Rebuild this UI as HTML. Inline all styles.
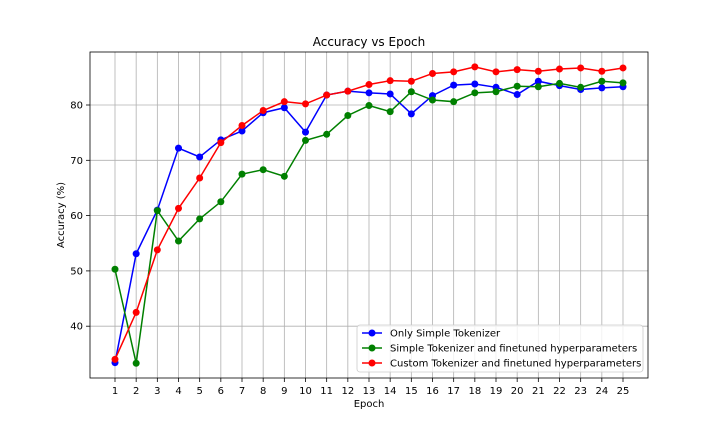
<!DOCTYPE html>
<html><head><meta charset="utf-8"><style>
body{margin:0;background:#fff;}
svg text{font-family:"DejaVu Sans","Liberation Sans",sans-serif;fill:#000;}
</style></head><body>
<svg id="c" width="720" height="432" xmlns="http://www.w3.org/2000/svg"></svg>
<script>
const epochs=[1,2,3,4,5,6,7,8,9,10,11,12,13,14,15,16,17,18,19,20,21,22,23,24,25];
const seriesBlue=[33.4,53.1,61.0,72.2,70.6,73.7,75.3,78.6,79.5,75.1,81.8,82.5,82.2,82.0,78.4,81.7,83.6,83.8,83.2,81.9,84.3,83.5,82.8,83.1,83.3];
const seriesGreen=[50.3,33.3,60.9,55.4,59.4,62.5,67.5,68.3,67.1,73.6,74.7,78.1,79.9,78.8,82.4,80.9,80.6,82.2,82.4,83.4,83.3,83.9,83.2,84.3,84.0];
const seriesRed=[34.0,42.5,53.8,61.3,66.8,73.2,76.3,79.0,80.6,80.2,81.8,82.5,83.7,84.4,84.3,85.7,86.0,86.9,86.0,86.4,86.1,86.5,86.7,86.1,86.7];
const yTicks=[40,50,60,70,80];
const names=["Only Simple Tokenizer","Simple Tokenizer and finetuned hyperparameters","Custom Tokenizer and finetuned hyperparameters"];
const L=90,R=648,T=52,B=378;
const xs=e=>115+(e-1)*(623-115)/24;
const ys=v=>105+(80-v)*5.53;
const svg=document.getElementById('c');
const NS='http://www.w3.org/2000/svg';
function mk(tag,attrs,parent){const el=document.createElementNS(NS,tag);for(const k in attrs)el.setAttribute(k,attrs[k]);(parent||svg).appendChild(el);return el;}
// grid
epochs.forEach(e=>{
 const g=mk('line',{x1:xs(e),x2:xs(e),y1:T,y2:B,stroke:'#b0b0b0','stroke-width':0.8});
 
 
 const t=mk('line',{x1:xs(e),x2:xs(e),y1:B,y2:B+4,stroke:'#000','stroke-width':0.8});
 
 
 const tx=mk('text',{x:xs(e),y:B+16,'font-size':10,'text-anchor':'middle'});tx.textContent=e;
 
 
});
yTicks.forEach(v=>{
 const g=mk('line',{x1:L,x2:R,y1:ys(v),y2:ys(v),stroke:'#b0b0b0','stroke-width':0.8});
 
 
 const t=mk('line',{x1:L-4,x2:L,y1:ys(v),y2:ys(v),stroke:'#000','stroke-width':0.8});
 
 
 const tx=mk('text',{x:L-7,y:ys(v)+3.5,'font-size':10,'text-anchor':'end'});tx.textContent=v;
 
 
});
const frame=mk('rect',{x:L,y:T,width:R-L,height:B-T,fill:'none',stroke:'#000','stroke-width':0.8});


const cols=['#0000ff','#008000','#ff0000'];
[seriesBlue,seriesGreen,seriesRed].forEach((s,i)=>{
 const p=mk('polyline',{points:s.map((v,j)=>xs(epochs[j])+','+ys(v)).join(' '),fill:'none',stroke:cols[i],'stroke-width':1.5});
 
 
 s.forEach((v,j)=>{const c=mk('circle',{cx:xs(epochs[j]),cy:ys(v),r:3.5,fill:cols[i]});
  
  });
});
const title=mk('text',{x:(L+R)/2,y:46,'font-size':12,'text-anchor':'middle'});title.textContent='Accuracy vs Epoch';


const xl=mk('text',{x:(L+R)/2,y:407,'font-size':10,'text-anchor':'middle'});xl.textContent='Epoch';


const yl=mk('text',{x:0,y:0,'font-size':10,'text-anchor':'middle',transform:'translate(64,215) rotate(-90)'});yl.textContent='Accuracy (%)';


const lg=mk('g',{});


mk('rect',{x:357,y:325,width:286,height:47,rx:3,fill:'#fff','fill-opacity':0.8,stroke:'#ccc','stroke-width':0.8},lg);
names.forEach((n,i)=>{
 const y=333+i*15;
 const e=mk('g',{},lg);
 
 
 mk('line',{x1:362,x2:382,y1:y,y2:y,stroke:cols[i],'stroke-width':1.5},e);
 mk('circle',{cx:372,cy:y,r:3.5,fill:cols[i]},e);
 const t=mk('text',{x:390,y:y+3.5,'font-size':10},e);t.textContent=n;
});
</script>
</body></html>
